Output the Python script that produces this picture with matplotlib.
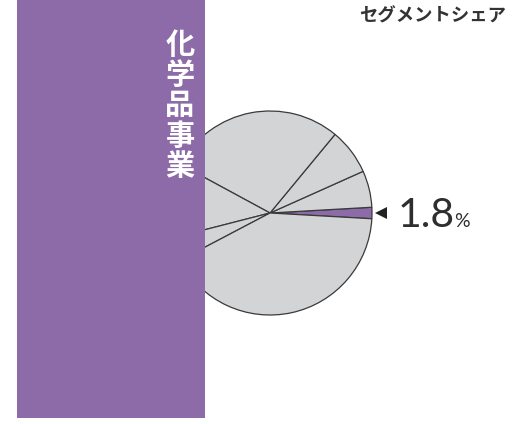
import matplotlib.pyplot as plt
from matplotlib.patches import Rectangle

plt.rcParams['font.family'] = ['Noto Sans CJK JP', 'DejaVu Sans']

# segment shares (%), counterclockwise starting with the chemicals segment
shares = [1.8, 5.8, 7.3, 28.1, 11.9, 3.7, 41.4]
highlight = 0
segment_name = "化学品事業"
title = "セグメントシェア"

purple = '#8c6ba8'
grey = '#d3d4d6'
edge = '#3a3a3a'

W, H = 521, 424
fig = plt.figure(figsize=(W / 100, H / 100), dpi=100)
ax = fig.add_axes([0, 0, 1, 1])

colors = [purple if i == highlight else grey for i in range(len(shares))]
start = -shares[highlight] * 3.6 / 2
cx, cy, r = 270, H - 213, 102
wedges, _ = ax.pie(shares, colors=colors, startangle=start, counterclock=True,
                   center=(cx, cy), radius=r,
                   wedgeprops=dict(edgecolor=edge, linewidth=0.9))

# panel that covers the left part of the pie
ax.add_patch(Rectangle((16.5, H - 418), 188.5, 430, facecolor=purple,
                       edgecolor='none', zorder=5))

for i, ch in enumerate(segment_name):
    ax.text(180, H - (45 + 30.2 * i), ch, color='white', fontsize=21,
            fontweight='bold', ha='center', va='center', zorder=6)

ax.text(506, H - 16, title, fontsize=13.2, fontweight='bold', color='#333333',
        ha='right', va='center')

# callout for the highlighted share
ax.plot([381], [H - 213], marker='<', color='#222222', markersize=8,
        markeredgewidth=0)
val = shares[highlight]
ax.text(398, H - 227, f"{val:.1f}", fontsize=29.5, color='#2e2e2e',
        family=['Lato', 'DejaVu Sans'], fontweight='normal', va='baseline')
ax.text(454, H - 227, "%", fontsize=14, color='#2e2e2e',
        family=['Lato', 'DejaVu Sans'], fontweight='normal', va='baseline')

ax.set_xlim(0, W)
ax.set_ylim(0, H)
ax.set_aspect('auto')
ax.axis('off')

fig.savefig('out.png', dpi=100)
